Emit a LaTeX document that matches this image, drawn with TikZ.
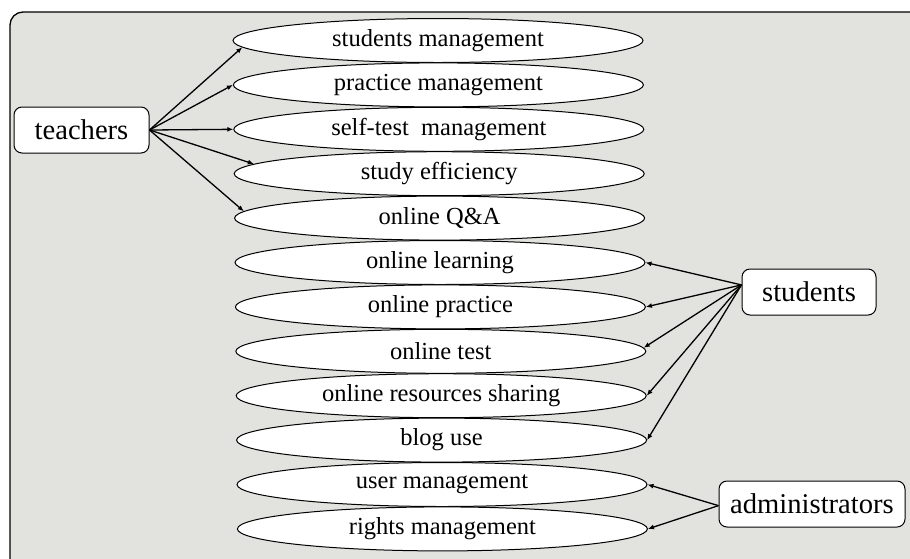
\documentclass[tikz,border=0pt]{standalone}
\usepackage{fontspec}
\setmainfont{Liberation Serif}
\usetikzlibrary{shapes.geometric,arrows.meta}
\definecolor{bgpaper}{RGB}{226,227,223}
\tikzset{
  usecase/.style={ellipse, draw=black, line width=1pt, fill=white,
    minimum width=410pt, minimum height=44pt, inner sep=0pt,
    font=\fontsize{24.5}{26}\selectfont},
  actor/.style={rectangle, rounded corners=8pt, draw=black, line width=1pt, fill=white,
    minimum height=46pt, inner sep=0pt, font=\fontsize{28.6}{30}\selectfont},
  link/.style={line width=1.3pt, -{Latex[length=6pt,width=5pt]}}
}
\begin{document}
\begin{tikzpicture}[x=1pt,y=-1pt]
\useasboundingbox (0,0) rectangle (910,558);
\begin{scope}
\clip (0,0) rectangle (910,558);
\draw[fill=bgpaper, line width=1.3pt, rounded corners=13pt] (10,12) rectangle (935,585);
\end{scope}
% use cases
\node[usecase] (e0)  at (438.0,40.5)  {students management};
\node[usecase] (e1)  at (438.4,84.9)  {practice management};
\node[usecase] (e2)  at (438.8,129.3) {self-test\ \ management};
\node[usecase] (e3)  at (439.2,173.7) {study efficiency};
\node[usecase] (e4)  at (439.6,218.1) {online Q\&A};
\node[usecase] (e5)  at (440.0,262.5) {online learning};
\node[usecase] (e6)  at (440.4,306.9) {online practice};
\node[usecase] (e7)  at (440.8,351.3) {online test};
\node[usecase] (e8)  at (441.2,395.7) {online resources sharing};
\node[usecase] (e9)  at (441.6,440.1) {blog use};
\node[usecase] (e10) at (442.0,484.5) {user management};
\node[usecase] (e11) at (442.4,528.9) {rights management};
% actors
\node[actor, minimum width=135pt] (t) at (81.5,130) {teachers};
\node[actor, minimum width=134pt] (s) at (809,292) {students};
\node[actor, minimum width=186pt] (a) at (812,504) {administrators};
% links
\draw[link] (t.east) -- (e0.182.2);
\draw[link] (t.east) -- (e1.180.9);
\draw[link] (t.east) -- (e2.180);
\draw[link] (t.east) -- (e3.177.8);
\draw[link] (t.east) -- (e4.178.6);
\draw[link] (s.174) -- (e5.0.7);
\draw[link] (s.174) -- (e6.0.3);
\draw[link] (s.174) -- (e7.1.4);
\draw[link] (s.174) -- (e8.0.2);
\draw[link] (s.174) -- (e9.0.8);
\draw[link] (a.181.8) -- (e10.0.7);
\draw[link] (a.181.8) -- (e11.0.5);
\end{tikzpicture}
\end{document}
